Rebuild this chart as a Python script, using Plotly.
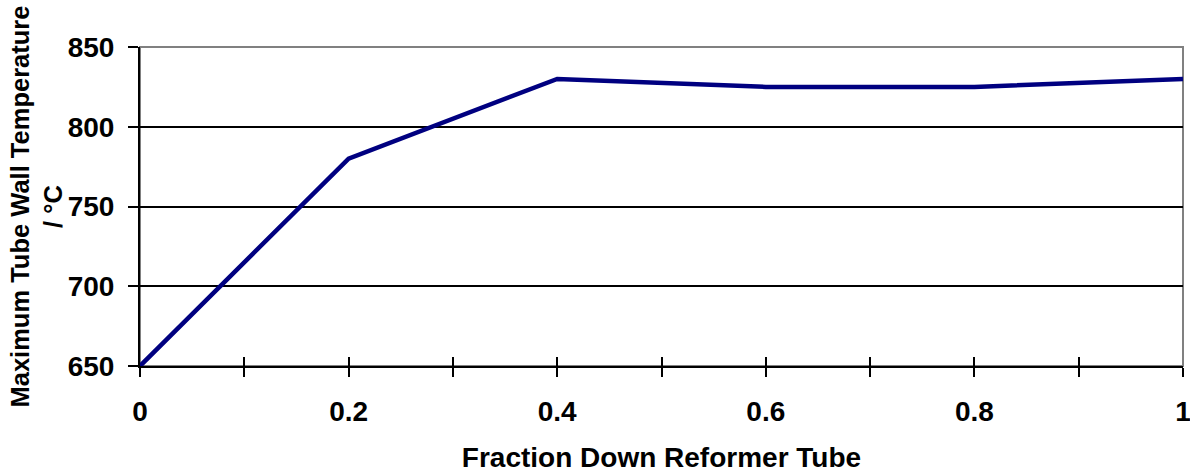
import plotly.graph_objects as go

fraction = [0, 0.2, 0.4, 0.6, 0.8, 1.0]
temperature = [650, 780, 830, 825, 825, 830]

x_tickvals = [0, 0.1, 0.2, 0.3, 0.4, 0.5, 0.6, 0.7, 0.8, 0.9, 1.0]
x_ticktext = ["0", "", "0.2", "", "0.4", "", "0.6", "", "0.8", "", "1"]
y_tickvals = [650, 700, 750, 800, 850]

font_family = "Liberation Sans, Arial, sans-serif"

fig = go.Figure()
fig.add_trace(go.Scatter(x=fraction, y=temperature, mode="lines",
                         line=dict(color="#000080", width=4.5), showlegend=False))
# invisible trace on overlay axis to carry the inward tick marks
fig.add_trace(go.Scatter(x=fraction, y=temperature, mode="lines", xaxis="x2",
                         line=dict(width=0), hoverinfo="skip", showlegend=False))

fig.update_layout(
    width=1190, height=473,
    margin=dict(l=140, r=7, t=47, b=107),
    paper_bgcolor="white", plot_bgcolor="white",
    font=dict(family=font_family, color="black"),
    xaxis=dict(range=[0, 1], tickvals=x_tickvals, ticktext=x_ticktext,
               ticks="outside", ticklen=9, tickwidth=2, tickcolor="black",
               showline=True, linecolor="black", linewidth=2,
               showgrid=False, zeroline=False, ticklabeloverflow="allow",
               automargin=False,
               tickfont=dict(size=28, family=font_family, weight="bold"),
               ticklabelstandoff=10,
               title=dict(text="<b>Fraction Down Reformer Tube</b>",
                          font=dict(size=28), standoff=31)),
    xaxis2=dict(range=[0, 1], overlaying="x", tickvals=x_tickvals,
                ticktext=[""] * len(x_tickvals), ticks="inside", ticklen=9,
                tickwidth=2, tickcolor="black", showgrid=False, zeroline=False,
                showline=False, side="bottom", anchor="y", automargin=False),
    yaxis=dict(range=[650, 850], tickvals=y_tickvals,
               ticks="outside", ticklen=10, tickwidth=2, tickcolor="black",
               showline=True, linecolor="black", linewidth=2,
               showgrid=True, gridcolor="black", gridwidth=2, zeroline=False,
               automargin=False,
               tickfont=dict(size=28, family=font_family, weight="bold"),
               ticklabelstandoff=8),
    annotations=[dict(text="<b>Maximum Tube Wall Temperature<br>/ °C</b>",
                      xref="paper", yref="paper", x=-0.0997, y=0.5,
                      xanchor="center", yanchor="middle", textangle=-90,
                      showarrow=False, font=dict(size=25.5, family=font_family))],
    shapes=[dict(type="rect", xref="x domain", yref="y domain", x0=0, x1=1, y0=0, y1=1,
                 line=dict(color="#808080", width=2), layer="below")],
)

fig.write_html("out.html")
